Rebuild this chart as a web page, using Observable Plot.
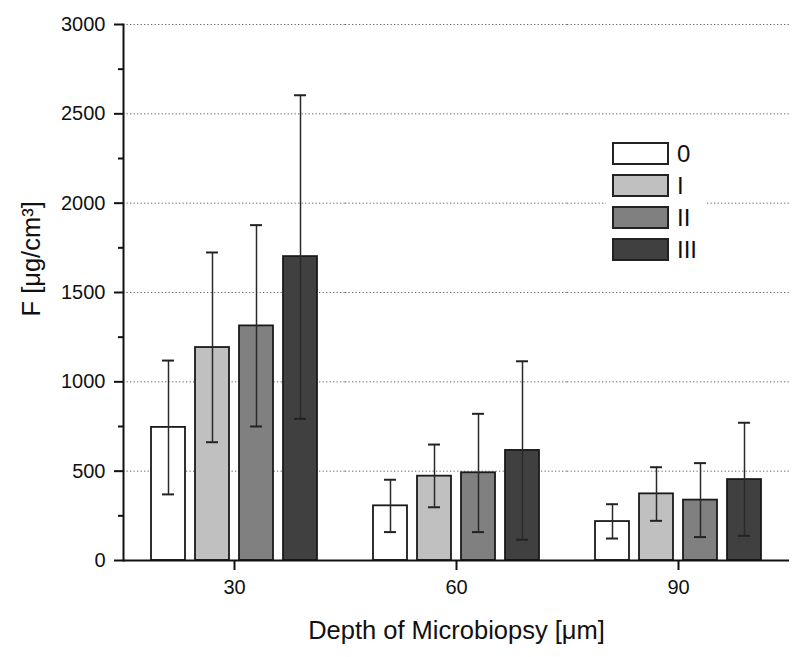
<!DOCTYPE html>
<html><head><meta charset="utf-8">
<script src="https://cdn.jsdelivr.net/npm/d3@7"></script>
<script src="https://cdn.jsdelivr.net/npm/@observablehq/plot@0.6"></script>
<style>
body{margin:0;background:#fff;font-family:"Liberation Sans",Arial,sans-serif}
#wrap{position:relative;width:800px;height:657px}
#legend{position:absolute;left:606px;top:137px;width:100px;height:128px;background:#fff}
.row{position:absolute;left:6px;height:23px;display:flex;align-items:center}
.sw{box-sizing:border-box;width:57px;height:23px;border:2px solid #222}
.lab{margin-left:8px;font-size:24px;color:#111;line-height:1}
</style></head><body><div id="wrap"></div>
<script>
// categories
const depths = ["30", "60", "90"];
const series = ["0", "I", "II", "III"];
const colors = ["#ffffff", "#c0c0c0", "#808080", "#404040"];
// means (per depth, per series)
const mean30 = [745, 1192, 1313, 1701];
const mean60 = [306, 472, 491, 616];
const mean90 = [218, 373, 338, 453];
// error bar lower ends
const lo30 = [370, 662, 750, 793];
const lo60 = [159, 298, 159, 116];
const lo90 = [123, 222, 131, 138];
// error bar upper ends
const hi30 = [1119, 1724, 1877, 2604];
const hi60 = [452, 649, 821, 1115];
const hi90 = [315, 522, 545, 771];
// ticks
const majorTicks = [0, 500, 1000, 1500, 2000, 2500, 3000];
const minorTicks = [250, 750, 1250, 1750, 2250, 2750];
const gridTicks = [500, 1000, 1500, 2000, 2500, 3000];

const means = [mean30, mean60, mean90];
const los = [lo30, lo60, lo90];
const his = [hi30, hi60, hi90];
const data = [];
depths.forEach((d, i) => series.forEach((s, j) => data.push({depth: d, series: s, value: means[i][j], lo: los[i][j], hi: his[i][j]})));

const font = '"Liberation Sans", Arial, sans-serif';
const chart = Plot.plot({
  width: 800,
  height: 657,
  marginTop: 24,
  marginBottom: 97,
  marginLeft: 122,
  marginRight: 11,
  style: {fontFamily: font, color: "#111", background: "#fff"},
  fx: {domain: depths, padding: 0},
  x: {domain: series, paddingInner: 0.236, paddingOuter: 0.6275, axis: null},
  y: {domain: [0, 3000]},
  color: {domain: series, range: colors},
  marks: [
    Plot.ruleY(gridTicks, {stroke: "#666", strokeWidth: 1, strokeDasharray: "1.3,2.2"}),
    Plot.barY(data, {fx: "depth", x: "series", y: "value", fill: "series", stroke: "#1a1a1a", strokeWidth: 1.8}),
    Plot.ruleX(data, {fx: "depth", x: "series", y1: "lo", y2: "hi", stroke: "#2a2a2a", strokeWidth: 1.5}),
    Plot.tickY(data, {fx: "depth", x: "series", y: "hi", stroke: "#222", strokeWidth: 2, insetLeft: 11, insetRight: 11}),
    Plot.tickY(data, {fx: "depth", x: "series", y: "lo", stroke: "#222", strokeWidth: 2, insetLeft: 11, insetRight: 11}),
    Plot.ruleY([0], {stroke: "#111", strokeWidth: 2}),
    Plot.frame({anchor: "left", facetAnchor: "left", stroke: "#111", strokeWidth: 2}),
    Plot.axisY({ticks: majorTicks, tickSize: 9, tickPadding: 9, fontSize: 20, strokeWidth: 2, label: null, tickFormat: d => String(d)}),
    Plot.axisY({ticks: minorTicks, tickSize: 5, strokeWidth: 2, text: null, label: null}),
    Plot.axisFx({anchor: "bottom", tickSize: 10, tickPadding: 9, fontSize: 20, strokeWidth: 2, label: null}),
    Plot.axisFx({anchor: "bottom", ticks: [], label: "Depth of Microbiopsy [μm]", labelAnchor: "center", labelArrow: "none", labelOffset: 78, fontSize: 25.5}),
    Plot.text(["F [μg/cm³]"], {frameAnchor: "left", facetAnchor: "left", rotate: -90, dx: -92, dy: 24, lineAnchor: "middle", fontSize: 25.5, fill: "#111"})
  ]
});
const wrap = document.getElementById("wrap");
wrap.appendChild(chart);

// in-plot legend
const legend = document.createElement("div");
legend.id = "legend";
series.forEach((s, i) => {
  const row = document.createElement("div");
  row.className = "row";
  row.style.top = (5 + 32 * i) + "px";
  const sw = document.createElement("div");
  sw.className = "sw";
  sw.style.background = colors[i];
  const lab = document.createElement("span");
  lab.className = "lab";
  lab.textContent = s;
  row.appendChild(sw); row.appendChild(lab);
  legend.appendChild(row);
});
wrap.appendChild(legend);
</script></body></html>
